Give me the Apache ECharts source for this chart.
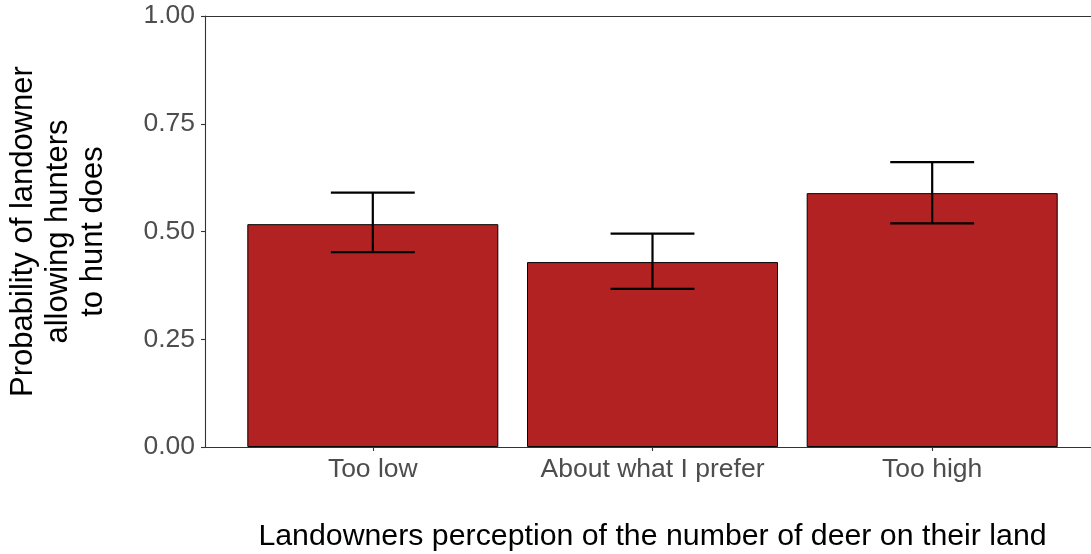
<!DOCTYPE html>
<html><head><meta charset="utf-8">
<script src="https://cdn.jsdelivr.net/npm/echarts@6/dist/echarts.min.js"></script>
<style>html,body{margin:0;padding:0;background:#fff}#c{width:1091px;height:554px}</style>
</head><body><div id="c"></div>
<script>
const categories = ['Too low', 'About what I prefer', 'Too high'];
const positions = [1, 2, 3];
const probability = [0.517, 0.429, 0.589];
const lowerCI = [0.452, 0.367, 0.519];
const upperCI = [0.590, 0.495, 0.661];
const yTicks = [0, 0.25, 0.5, 0.75, 1];

const FONT = '"Liberation Sans", Arial, sans-serif';
const chart = echarts.init(document.getElementById('c'), null, {renderer: 'canvas'});

const option = {
  animation: false,
  backgroundColor: '#fff',
  grid: {left: 205, right: -9, top: 16, bottom: 107, containLabel: false, outerBoundsMode: 'none'},
  xAxis: [{
    type: 'value', min: 0.4, max: 3.6,
    position: 'bottom',
    axisLine: {show: true, onZero: false, lineStyle: {color: '#333', width: 1.1}},
    axisTick: {show: true, length: 4, customValues: positions, lineStyle: {color: '#333', width: 1.1}},
    axisLabel: {
      show: true, customValues: positions, margin: 9,
      formatter: v => categories[Math.round(v) - 1] || '',
      color: '#4D4D4D', fontSize: 26.5, fontFamily: FONT
    },
    splitLine: {show: false},
    name: 'Landowners perception of the number of deer on their land',
    nameLocation: 'middle', nameGap: 75,
    nameTextStyle: {color: '#000', fontSize: 30.3, fontFamily: FONT}
  }, {
    type: 'value', min: 0.4, max: 3.6, position: 'top',
    axisLine: {show: true, onZero: false, lineStyle: {color: '#333', width: 1.1}},
    axisTick: {show: false}, axisLabel: {show: false}, splitLine: {show: false}
  }],
  yAxis: {
    type: 'value', min: 0, max: 1, interval: 0.25,
    axisLine: {show: true, onZero: false, lineStyle: {color: '#333', width: 1.1}},
    axisTick: {show: true, length: 4, lineStyle: {color: '#333', width: 1.1}},
    axisLabel: {
      margin: 10, color: '#4D4D4D', fontSize: 26.5, fontFamily: FONT,
      formatter: v => v.toFixed(2)
    },
    splitLine: {show: false},
    name: 'Probability of landowner\nallowing hunters\nto hunt does',
    nameLocation: 'middle', nameRotate: 90, nameGap: 94,
    nameTextStyle: {color: '#000', fontSize: 31, lineHeight: 35, fontFamily: FONT, align: 'center'}
  },
  series: [{
    type: 'bar',
    xAxisIndex: 0,
    data: positions.map((p, i) => [p, probability[i]]),
    barWidth: 251,
    itemStyle: {color: '#B22222', borderColor: '#000', borderWidth: 1}
  }, {
    type: 'custom',
    xAxisIndex: 0,
    data: positions.map((p, i) => [p, lowerCI[i], upperCI[i]]),
    renderItem: function (params, api) {
      const x = api.value(0), lo = api.value(1), hi = api.value(2);
      const top = api.coord([x, hi]);
      const bot = api.coord([x, lo]);
      const hw = api.size([0.15, 0])[0];
      const style = {stroke: '#000', lineWidth: 2.2};
      return {
        type: 'group',
        children: [
          {type: 'line', shape: {x1: top[0], y1: top[1], x2: bot[0], y2: bot[1]}, style: style},
          {type: 'line', shape: {x1: top[0] - hw, y1: top[1], x2: top[0] + hw, y2: top[1]}, style: style},
          {type: 'line', shape: {x1: bot[0] - hw, y1: bot[1], x2: bot[0] + hw, y2: bot[1]}, style: style}
        ]
      };
    },
    z: 10
  }]
};
chart.setOption(option);
</script>
</body></html>
